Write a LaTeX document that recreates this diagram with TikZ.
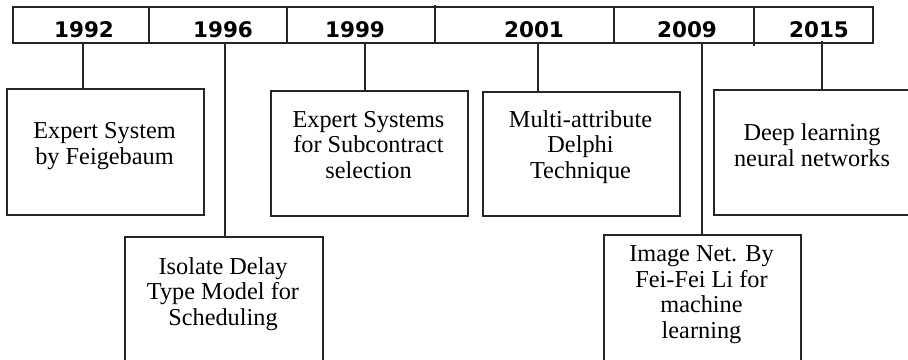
\documentclass[tikz,border=0pt]{standalone}
\usepackage{fontspec}
\setmainfont{Liberation Serif}
\newfontfamily\yearfont{DejaVu Sans}
\begin{document}
\begin{tikzpicture}[x=1pt,y=-1pt,
  frame/.style={draw=black!85,line width=1.5pt},
  box/.style={draw=black!85,line width=1.5pt,inner sep=0pt,anchor=north west},
  conn/.style={draw=black!85,line width=1.8pt},
  year/.style={font=\yearfont\bfseries\fontsize{21.5}{24}\selectfont,inner sep=0pt},
  txt/.style={font=\fontsize{24.3}{25.5}\selectfont,align=center,inner sep=0pt,anchor=base}]
\useasboundingbox (0,0) rectangle (908,359);
\clip (0,0) rectangle (908,359);
% bar
\draw[frame] (13,7) rectangle (873,43);
\draw[frame] (149,7) -- (149,43);
\draw[frame] (287,7) -- (287,43);
\draw[frame] (435,5) -- (435,43);
\draw[frame] (614,7) -- (614,43);
\draw[frame] (754,7) -- (754,46);
\node[year] (y1) at (84,30) {1992};
\node[year] (y2) at (223,30) {1996};
\node[year] (y3) at (355,30) {1999};
\node[year] (y4) at (534,30) {2001};
\node[year] (y5) at (687,30) {2009};
\node[year] (y6) at (819,30) {2015};
% boxes
\node[box,minimum width=197pt,minimum height=126pt] (b1) at (6,88) {};
\node[box,minimum width=198pt,minimum height=200pt] (b2) at (124,236) {};
\node[box,minimum width=197pt,minimum height=125pt] (b3) at (270,90) {};
\node[box,minimum width=197pt,minimum height=124pt] (b4) at (482,91) {};
\node[box,minimum width=198pt,minimum height=125pt] (b5) at (713,89) {};
\node[box,minimum width=197pt,minimum height=200pt] (b6) at (603,234) {};
% texts (anchor = baseline of last line)
\node[txt] (t1) at (104.5,164) {Expert System\\by Feigebaum};
\node[txt] (t2) at (223,325) {Isolate Delay\\Type Model for\\Scheduling};
\node[txt] (t3) at (368.5,178) {Expert Systems\\for Subcontract\\selection};
\node[txt] (t4) at (580.5,178) {Multi-attribute\\Delphi\\Technique};
\node[txt] (t5) at (812,166) {Deep learning\\neural networks};
\node[txt] (t6) at (701.5,338) {Image Net. By\\Fei-Fei Li for\\machine\\learning};
% connectors
\coordinate (c1) at (83,43);
\coordinate (c2) at (225,43);
\coordinate (c3) at (365,43);
\coordinate (c4) at (538,43);
\coordinate (c5) at (702,43);
\coordinate (c6) at (822,41);
\draw[conn] (c1) -- (c1 |- b1.north);
\draw[conn] (c2) -- (c2 |- b2.north);
\draw[conn] (c3) -- (c3 |- b3.north);
\draw[conn] (c4) -- (c4 |- b4.north);
\draw[conn] (c5) -- (c5 |- b6.north);
\draw[conn] (c6) -- (c6 |- b5.north);
\end{tikzpicture}
\end{document}
